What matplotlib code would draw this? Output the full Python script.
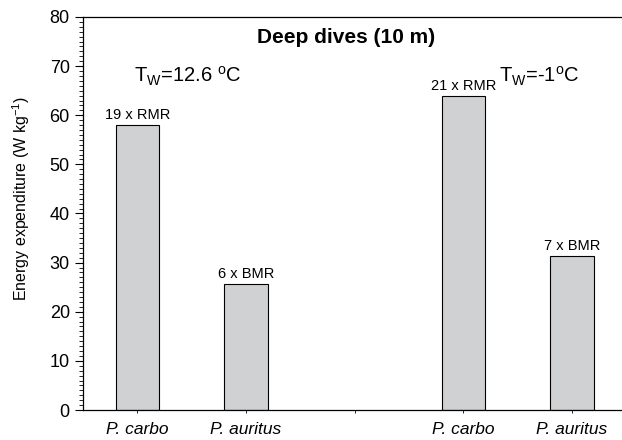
import matplotlib
matplotlib.use("Agg")
import matplotlib.pyplot as plt
from matplotlib.ticker import MultipleLocator

plt.rcParams['font.family'] = ['Liberation Sans', 'DejaVu Sans']
plt.rcParams['mathtext.fontset'] = 'custom'
plt.rcParams['mathtext.rm'] = 'Liberation Sans'
plt.rcParams['mathtext.it'] = 'Liberation Sans:italic'
plt.rcParams['mathtext.bf'] = 'Liberation Sans:bold'

# data
species = ['P. carbo', 'P. auritus', '', 'P. carbo', 'P. auritus']
positions = [1, 2, 4, 5]
energy = [58.0, 25.7, 63.9, 31.3]
bar_labels = ['19 x RMR', '6 x BMR', '21 x RMR', '7 x BMR']

fig = plt.figure(figsize=(6.22, 4.40), dpi=100)
ax = fig.add_axes([83 / 622, 30 / 440, 1 - 83 / 622, 393 / 440])

ax.bar(positions, energy, width=0.4, color='#d0d1d3', edgecolor='black', linewidth=0.8)

for x, y, lab in zip(positions, energy, bar_labels):
    ax.text(x, y + 0.6, lab, ha='center', va='bottom', fontsize=10.5)

ax.set_xlim(0.5, 5.46)
ax.set_ylim(0, 80)
ax.set_xticks([1, 2, 3, 4, 5])
ax.set_xticklabels(species, fontsize=12.5, style='italic')
ax.yaxis.set_major_locator(MultipleLocator(10))
ax.yaxis.set_minor_locator(MultipleLocator(1))
ax.tick_params(axis='y', which='major', labelsize=13, length=6, width=0.8, direction='out')
ax.tick_params(axis='y', which='minor', length=3, width=0.6, direction='out')
ax.tick_params(axis='x', which='major', length=2.5, width=0.6, direction='out', pad=6)
ax.spines['right'].set_visible(False)
for s in ['left', 'bottom', 'top']:
    ax.spines[s].set_linewidth(0.9)

ax.set_ylabel(r'Energy expenditure (W kg$^{\mathrm{-1}}$)', fontsize=11.5)
ax.yaxis.set_label_coords(-0.095, 0.537)

ax.text(2.92, 75.8, 'Deep dives (10 m)', ha='center', va='center', fontsize=15, fontweight='bold')
ax.text(0.97, 66.6, r'T$_\mathrm{W}$=12.6 $^\mathrm{o}$C', ha='left', va='baseline', fontsize=14.5)
ax.text(4.33, 66.6, r'T$_\mathrm{W}$=-1$^\mathrm{o}$C', ha='left', va='baseline', fontsize=14.5)

fig.savefig('out.png', dpi=100)
